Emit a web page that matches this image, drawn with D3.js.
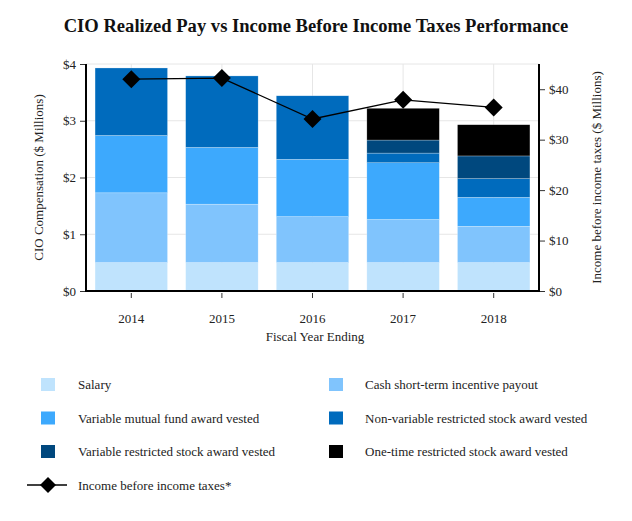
<!DOCTYPE html>
<html><head><meta charset="utf-8">
<script src="https://cdn.jsdelivr.net/npm/d3@7"></script>
<style>body{margin:0;background:#fff;} text{font-family:"Liberation Serif","Times New Roman",serif;}</style>
</head><body>
<svg id="c" width="632" height="521"></svg>
<script>
const years = ["2014","2015","2016","2017","2018"];
const seriesNames = ["Salary","Cash short-term incentive payout","Variable mutual fund award vested","Non-variable restricted stock award vested","Variable restricted stock award vested","One-time restricted stock award vested"];
const salary = [0.50,0.50,0.50,0.50,0.50];
const cashIncentive = [1.23,1.03,0.81,0.76,0.64];
const variableMutualFund = [1.01,1.00,1.01,1.00,0.51];
const nonVariableRSA = [1.19,1.26,1.12,0.17,0.33];
const variableRSA = [0,0,0,0.23,0.40];
const oneTimeRSA = [0,0,0,0.56,0.55];
const incomeBeforeTaxes = [42.0,42.2,34.1,37.9,36.4];
const leftTicks = [0,1,2,3,4];
const rightTicks = [0,10,20,30,40];
const colors = ["#bfe3fd","#80c4fd","#3da9fd","#006bbd","#00487e","#000000"];

const seriesVals = [salary,cashIncentive,variableMutualFund,nonVariableRSA,variableRSA,oneTimeRSA];
const rows = years.map((y,i)=>{const o={year:y}; seriesNames.forEach((s,k)=>o[s]=seriesVals[k][i]); return o;});
const stack = d3.stack().keys(seriesNames)(rows);

const svg = d3.select("#c");
const L=86,R=539,T=64,B=291;
const x = d3.scaleBand().domain(years).range([L,R]).paddingInner(0.2).paddingOuter(0.1);
const y = d3.scaleLinear().domain([0,4]).range([B,T]);
const y2 = d3.scaleLinear().domain([0,45]).range([B,T]);

// grid
svg.append("g").selectAll("line").data(leftTicks.slice(1)).join("line")
  .attr("x1",L).attr("x2",R).attr("y1",d=>y(d)).attr("y2",d=>y(d))
  .attr("stroke","#e6e6e6").attr("stroke-width",1);
svg.append("g").selectAll("line").data(years).join("line")
  .attr("x1",d=>x(d)+x.bandwidth()/2).attr("x2",d=>x(d)+x.bandwidth()/2).attr("y1",T).attr("y2",B)
  .attr("stroke","#e6e6e6").attr("stroke-width",1);

// bars
svg.append("g").selectAll("g").data(stack).join("g").attr("fill",(d,i)=>colors[i])
  .selectAll("rect").data(d=>d).join("rect")
  .attr("x",d=>x(d.data.year)).attr("width",x.bandwidth())
  .attr("y",d=>y(d[1])).attr("height",d=>Math.max(0,y(d[0])-y(d[1])))
  .attr("stroke","rgba(255,255,255,0.5)").attr("stroke-width",0.5);

// axes
const axL = svg.append("g").attr("transform",`translate(${L},0)`)
  .call(d3.axisLeft(y).tickValues(leftTicks).tickFormat(d=>"$"+d).tickSize(6).tickPadding(4));
const axR = svg.append("g").attr("transform",`translate(${R},0)`)
  .call(d3.axisRight(y2).tickValues(rightTicks).tickFormat(d=>"$"+d).tickSize(6).tickPadding(4));
const axB = svg.append("g").attr("transform",`translate(0,${B+2})`)
  .call(d3.axisBottom(x).tickSize(5).tickPadding(16));
[axL,axR,axB].forEach(a=>{a.select(".domain").remove(); a.selectAll("text").attr("font-size",13).attr("fill","#222").style("font-family","Liberation Serif");a.selectAll(".tick line").attr("stroke","#333");});
svg.append("line").attr("x1",L).attr("x2",L).attr("y1",T).attr("y2",B+1).attr("stroke","#000").attr("stroke-width",2);
svg.append("line").attr("x1",R).attr("x2",R).attr("y1",T).attr("y2",B+1).attr("stroke","#000").attr("stroke-width",2);
svg.append("line").attr("x1",L-1).attr("x2",R+1).attr("y1",B).attr("y2",B).attr("stroke","#000").attr("stroke-width",2);

// line
const cx = d=>x(d)+x.bandwidth()/2;
svg.append("path").datum(years.map((yr,i)=>[cx(yr),y2(incomeBeforeTaxes[i])]))
  .attr("d",d3.line()).attr("fill","none").attr("stroke","#000").attr("stroke-width",1.3);
svg.append("g").selectAll("path").data(years).join("path")
  .attr("transform",(d,i)=>`translate(${cx(d)},${y2(incomeBeforeTaxes[i])})`)
  .attr("d","M0,-9L9,0L0,9L-9,0Z").attr("fill","#000");

// titles
svg.append("text").attr("x",316).attr("y",32).attr("text-anchor","middle")
  .attr("font-size",18.6).attr("font-weight","bold").attr("fill","#111")
  .text("CIO Realized Pay vs Income Before Income Taxes Performance");
svg.append("text").attr("x",315).attr("y",341).attr("text-anchor","middle").attr("font-size",13).attr("fill","#222").text("Fiscal Year Ending");
svg.append("text").attr("transform",`translate(43,${(T+B)/2}) rotate(-90)`).attr("text-anchor","middle").attr("font-size",13).attr("fill","#222").text("CIO Compensation ($ Millions)");
svg.append("text").attr("transform",`translate(601,${(T+B)/2}) rotate(-90)`).attr("text-anchor","middle").attr("font-size",13).attr("fill","#222").text("Income before income taxes ($ Millions)");

// legend
const lg = svg.append("g");
const rowY = [384.5,418,451.5];
seriesNames.forEach((s,i)=>{
  const col=i%2,row=Math.floor(i/2);
  const sx = col===0?41:329, tx = col===0?78:365, ty = rowY[row];
  lg.append("rect").attr("x",sx).attr("y",ty-6.5).attr("width",14).attr("height",13).attr("fill",colors[i]);
  lg.append("text").attr("x",tx).attr("y",ty+4.5).attr("font-size",13).attr("fill","#222").text(s);
});
const ly=485;
lg.append("line").attr("x1",27).attr("x2",67).attr("y1",ly).attr("y2",ly).attr("stroke","#000").attr("stroke-width",1.5);
lg.append("path").attr("transform",`translate(48,${ly})`).attr("d","M0,-8L8,0L0,8L-8,0Z").attr("fill","#000");
lg.append("text").attr("x",78).attr("y",ly+4.5).attr("font-size",13).attr("fill","#222").text("Income before income taxes*");
</script>
</body></html>
